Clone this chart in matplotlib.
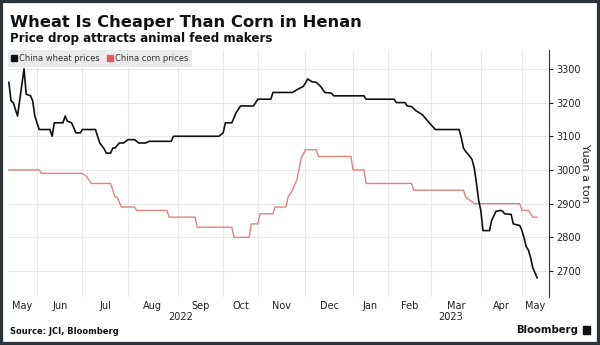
import numpy as np
import matplotlib.pyplot as plt
from matplotlib.lines import Line2D
from matplotlib.patches import Rectangle
import matplotlib.transforms as mtransforms

# Chinese market holidays -> x axis runs on trading days
holidays = ["2022-06-03", "2022-09-12",
            "2022-10-03", "2022-10-04", "2022-10-05", "2022-10-06", "2022-10-07",
            "2023-01-02", "2023-01-23", "2023-01-24", "2023-01-25", "2023-01-26",
            "2023-01-27", "2023-04-05", "2023-05-01", "2023-05-02", "2023-05-03"]
origin = "2022-06-01"

wheat_dates = ["2022-05-13", "2022-05-16", "2022-05-17", "2022-05-19", "2022-05-24",
               "2022-05-25", "2022-05-27", "2022-05-30", "2022-05-31", "2022-06-02",
               "2022-06-10", "2022-06-13", "2022-06-14", "2022-06-20", "2022-06-21",
               "2022-06-22", "2022-06-24", "2022-06-27", "2022-06-28", "2022-06-30",
               "2022-07-01", "2022-07-11", "2022-07-13", "2022-07-15", "2022-07-18",
               "2022-07-20", "2022-07-21", "2022-07-22", "2022-07-26", "2022-07-28",
               "2022-08-01", "2022-08-04", "2022-08-08", "2022-08-11", "2022-08-15",
               "2022-08-29", "2022-08-30", "2022-09-29", "2022-10-10", "2022-10-11",
               "2022-10-14", "2022-10-18", "2022-10-20", "2022-10-28", "2022-11-01",
               "2022-11-09", "2022-11-10", "2022-11-23", "2022-11-25", "2022-11-30",
               "2022-12-01", "2022-12-02", "2022-12-06", "2022-12-08", "2022-12-12",
               "2022-12-14", "2022-12-19", "2022-12-20", "2023-01-10", "2023-01-11",
               "2023-02-06", "2023-02-07", "2023-02-13", "2023-02-14", "2023-02-16",
               "2023-02-20", "2023-02-23", "2023-02-27", "2023-03-01", "2023-03-03",
               "2023-03-20", "2023-03-21", "2023-03-22", "2023-03-23", "2023-03-27",
               "2023-03-28", "2023-03-29", "2023-03-30", "2023-03-31", "2023-04-03",
               "2023-04-04", "2023-04-10", "2023-04-11", "2023-04-13", "2023-04-17",
               "2023-04-18", "2023-04-19", "2023-04-24", "2023-04-25", "2023-04-28",
               "2023-05-04", "2023-05-05", "2023-05-08", "2023-05-09", "2023-05-10",
               "2023-05-11", "2023-05-15"]
wheat_prices = [3260, 3205, 3200, 3160, 3300, 3225, 3220, 3205, 3160, 3120,
                3120, 3100, 3140, 3140, 3160, 3145, 3140, 3125, 3110, 3110,
                3120, 3120, 3080, 3063, 3050, 3050, 3065, 3065, 3080, 3080,
                3090, 3090, 3080, 3080, 3085, 3085, 3100, 3100, 3110, 3140,
                3140, 3170, 3190, 3190, 3210, 3210, 3230, 3230, 3238, 3248,
                3258, 3270, 3262, 3260, 3248, 3230, 3228, 3220, 3220, 3210,
                3210, 3200, 3200, 3190, 3188, 3176, 3164, 3149, 3134, 3120,
                3120, 3095, 3065, 3055, 3040, 3030, 3005, 2960, 2910, 2880,
                2820, 2820, 2850, 2877, 2880, 2878, 2870, 2868, 2840, 2835,
                2820, 2798, 2772, 2762, 2740, 2710, 2680]

corn_dates = ["2022-05-13", "2022-06-02", "2022-06-06", "2022-07-01", "2022-07-05",
              "2022-07-07", "2022-07-20", "2022-07-22", "2022-07-25", "2022-07-27",
              "2022-08-04", "2022-08-05", "2022-08-25", "2022-08-26", "2022-09-14",
              "2022-09-15", "2022-10-14", "2022-10-17", "2022-10-26", "2022-10-27",
              "2022-11-01", "2022-11-02", "2022-11-10", "2022-11-11", "2022-11-18",
              "2022-11-21", "2022-11-23", "2022-11-25", "2022-11-29", "2022-12-01",
              "2022-12-08", "2022-12-09", "2022-12-30", "2023-01-03", "2023-01-10",
              "2023-01-11", "2023-02-16", "2023-02-17", "2023-03-22", "2023-03-23",
              "2023-03-27", "2023-03-29", "2023-04-28", "2023-05-04", "2023-05-09",
              "2023-05-11", "2023-05-15"]
corn_prices = [3000, 3000, 2990, 2990, 2980, 2960, 2960, 2920, 2920, 2890,
               2890, 2880, 2880, 2860, 2860, 2830, 2830, 2800, 2800, 2840,
               2840, 2870, 2870, 2890, 2890, 2920, 2940, 2970, 3035, 3060,
               3060, 3040, 3040, 3000, 3000, 2960, 2960, 2940, 2940, 2920,
               2910, 2900, 2900, 2880, 2880, 2860, 2860]

month_starts = ["2022-06-01", "2022-07-01", "2022-08-01", "2022-09-01", "2022-10-01",
                "2022-11-01", "2022-12-01", "2023-01-01", "2023-02-01", "2023-03-01",
                "2023-04-01", "2023-05-01"]
month_labels = ["May", "Jun", "Jul", "Aug", "Sep", "Oct", "Nov", "Dec",
                "Jan", "Feb", "Mar", "Apr", "May"]
years = ["2022", "2023"]
yticks = [2700, 2800, 2900, 3000, 3100, 3200, 3300]


def tday(dates):
    return np.busday_count(origin, np.array(dates, dtype="datetime64[D]"),
                           holidays=holidays)


wx = tday(wheat_dates)
cx = tday(corn_dates)
bounds = tday(month_starts)
xmin, xmax = wx[0] - 0.4, wx[-1] + 5.5

fig = plt.figure(figsize=(6, 3.45), dpi=100)
fig.patch.set_facecolor("white")
ax = fig.add_axes([8 / 600, 1 - 297 / 345, 541 / 600, 247 / 345])

ax.plot(cx, corn_prices, color="#e0837e", lw=1.0)
ax.plot(wx, wheat_prices, color="#111111", lw=1.2)

ax.set_xlim(xmin, xmax)
ax.set_ylim(2623, 3356)

edges = np.concatenate([[xmin], bounds, [xmax]])
ax.set_xticks((edges[:-1] + edges[1:]) / 2)
ax.set_xticklabels(month_labels)
ax.set_xticks(bounds, minor=True)
ax.tick_params(axis="x", which="both", length=0, labelsize=7, colors="#222222", pad=3)
ax.grid(True, which="minor", axis="x", color="#e8e8ec", lw=0.8)
ax.grid(True, which="major", axis="y", color="#e8e8ec", lw=0.8)
ax.set_axisbelow(True)

ax.yaxis.tick_right()
ax.yaxis.set_label_position("right")
ax.set_yticks(yticks)
ax.tick_params(axis="y", length=3, width=0.8, labelsize=7, colors="#222222", pad=2)
ax.set_ylabel("Yuan a ton", rotation=270, fontsize=8, color="#222222", labelpad=7)

for s in ["top", "left", "bottom"]:
    ax.spines[s].set_visible(False)
ax.spines["right"].set_color("#333333")
ax.spines["right"].set_linewidth(0.8)

jan = bounds[month_starts.index("2023-01-01")]
trans = mtransforms.blended_transform_factory(ax.transData, ax.transAxes)
ax.text((xmin + jan) / 2, -0.082, years[0], transform=trans, ha="center", va="center",
        fontsize=7, color="#222222")
ax.text((jan + xmax) / 2, -0.082, years[1], transform=trans, ha="center", va="center",
        fontsize=7, color="#222222")

handles = [Line2D([], [], marker="s", ls="", color="#111111", markersize=4),
           Line2D([], [], marker="s", ls="", color="#e05c5c", markersize=4)]
leg = ax.legend(handles, ["China wheat prices", "China corn prices"], loc="upper left",
                bbox_to_anchor=(0, 1), borderaxespad=0, ncol=2, frameon=True,
                fancybox=False, facecolor="#ebebeb", edgecolor="none", framealpha=1,
                fontsize=6, handlelength=0.6, handletextpad=0.3, columnspacing=0.9,
                borderpad=0.45)
for t in leg.get_texts():
    t.set_color("#333333")

fig.text(10 / 600, 1 - 27 / 345, "Wheat Is Cheaper Than Corn in Henan", fontsize=11.8,
         fontweight="bold", va="baseline", color="#111111")
fig.text(10 / 600, 1 - 42 / 345, "Price drop attracts animal feed makers", fontsize=8.6,
         fontweight="bold", va="baseline", color="#111111")
fig.text(10 / 600, 1 - 331 / 345, "Source: JCI, Bloomberg", fontsize=6,
         fontweight="bold", va="center", color="#111111")
fig.text(578 / 600, 1 - 330 / 345, "Bloomberg", fontsize=7.3, fontweight="bold",
         va="center", ha="right", color="#111111")
fig.patches.append(Rectangle((583 / 600, 1 - 334 / 345), 7 / 600, 8 / 345,
                             transform=fig.transFigure, color="#111111"))

# dark frame round the picture
fig.patches.append(Rectangle((0, 0), 1, 1, transform=fig.transFigure, fill=False,
                             edgecolor="#2d3439", lw=4.5))

fig.savefig("out.png", dpi=100)
